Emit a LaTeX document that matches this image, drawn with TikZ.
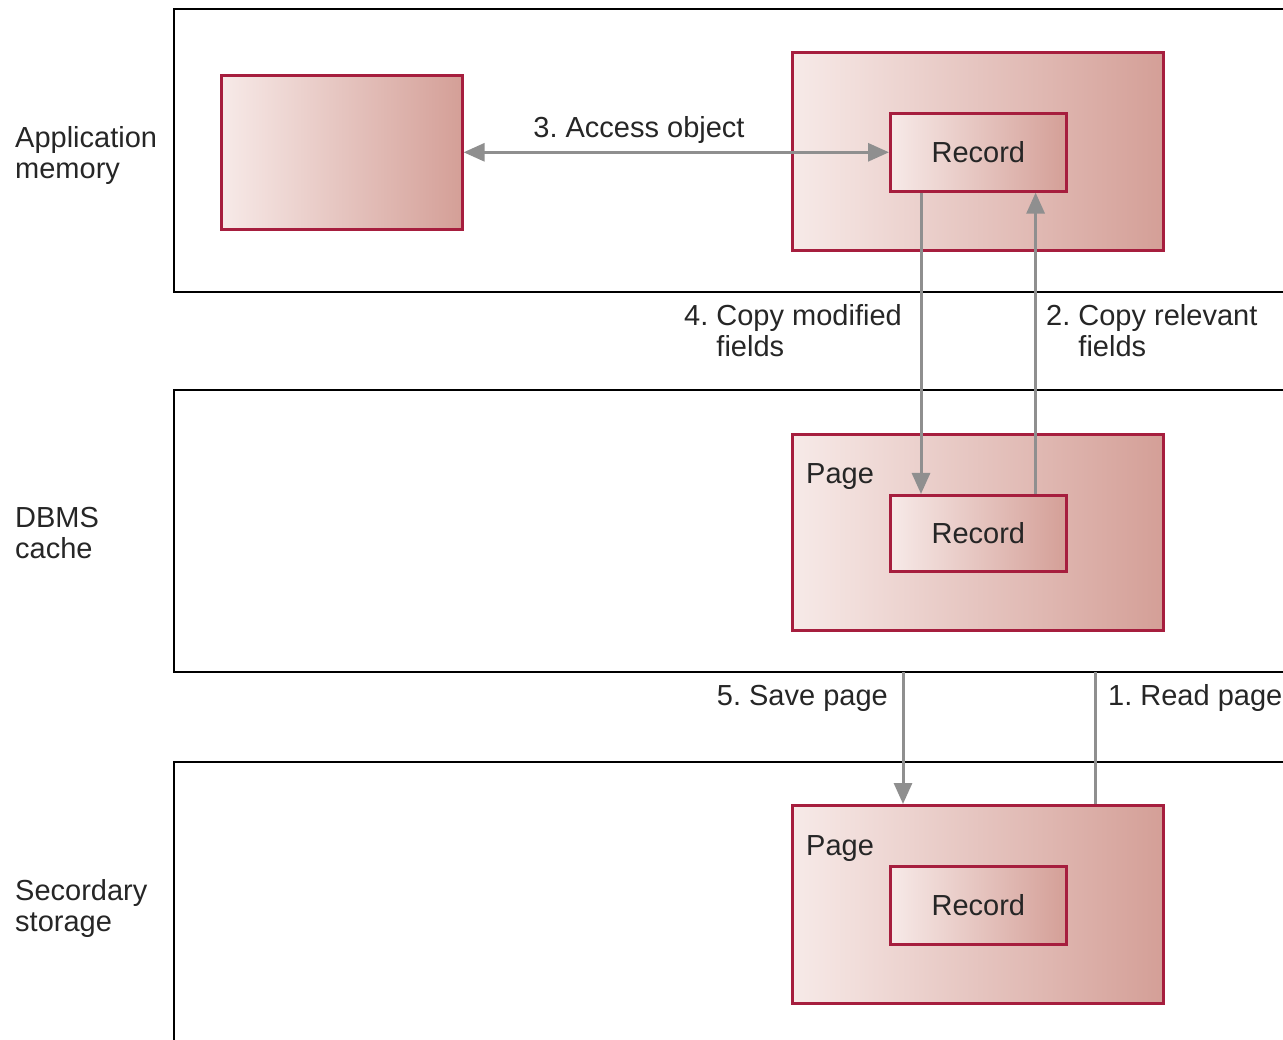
\documentclass[tikz,border=0pt]{standalone}
\usepackage{fontspec}
\setmainfont{Liberation Sans}
\usetikzlibrary{arrows.meta,calc}
\definecolor{boxedge}{HTML}{A61E3E}
\definecolor{fillL}{HTML}{F7EAE8}
\definecolor{fillR}{HTML}{D49F97}
\definecolor{flow}{HTML}{8F8F8F}
\definecolor{ink}{HTML}{262626}
\tikzset{
  x=1pt, y=-1pt,
  layer/.style={draw=black, line width=2.6pt},
  tinted/.style={draw=boxedge, line width=2.6pt, left color=fillL, right color=fillR,
    shading angle=90, anchor=north west, inner sep=0pt},
  recbox/.style={tinted, minimum width=176pt, minimum height=77pt},
  pagebox/.style={tinted, minimum width=371pt, minimum height=197pt},
  txt/.style={text=ink, font=\fontsize{29}{31}\selectfont, inner sep=0pt},
  flowline/.style={draw=flow, line width=3pt},
  flowarrow/.style={flowline, -{Triangle[length=21pt,width=18pt]}},
}
\begin{document}
\frenchspacing
\begin{tikzpicture}
\useasboundingbox (0,0) rectangle (1283,1040);

% layers (open on the right, bottom one also open below)
\draw[layer] (1300,9) -- (174,9) -- (174,292) -- (1300,292);
\draw[layer] (1300,390) -- (174,390) -- (174,672) -- (1300,672);
\draw[layer] (1300,762) -- (174,762) -- (174,1050);
\coordinate (cacheBot) at (174,672);

\node[txt, anchor=north west, align=left] (lblApp) at (15,126) {Application\\memory};
\node[txt, anchor=north west, align=left] (lblCache) at (15,507) {DBMS\\cache};
\node[txt, anchor=north west, align=left] (lblDisk) at (15,879) {Secordary\\storage};

% application memory
\node[tinted, minimum width=241pt, minimum height=154pt] (obj) at (220,74) {};
\node[pagebox, minimum height=198pt] (page1) at (791,51) {};
\node[recbox, minimum height=78pt] (rec1) at (889,112) {};
\node[txt] at (rec1.center) {Record};

% DBMS cache
\node[pagebox, minimum height=196pt] (page2) at (791,433) {};
\node[txt, anchor=base west] (p2lbl) at (806,484) {Page};
\node[recbox, minimum height=76pt] (rec2) at (889,494) {};
\node[txt] at (rec2.center) {Record};

% secondary storage
\node[pagebox, minimum height=198pt] (page3) at (791,804) {};
\node[txt, anchor=base west] (p3lbl) at (806,855) {Page};
\node[recbox, minimum height=78pt] (rec3) at (889,865) {};
\node[txt] at (rec3.center) {Record};

% data movement
\draw[flowarrow, {Triangle[length=21pt,width=18pt]}-{Triangle[length=21pt,width=18pt]}]
  (obj.east) -- (rec1.west);
\node[txt, anchor=base] (l3) at (639,138) {3. Access object};

\coordinate (d4) at ($(rec1.south west)+(32,0)$);
\coordinate (u2) at ($(rec1.south east)+(-32,0)$);
\draw[flowarrow] (d4) -- (d4 |- rec2.north);
\draw[flowarrow] (u2 |- rec2.north) -- (u2);
\node[txt, anchor=north west, align=left] (l4) at (684,304) {4. Copy modified\\\hphantom{4. }fields};
\node[txt, anchor=north west, align=left] (l2) at (1046,304) {2. Copy relevant\\\hphantom{2. }fields};

\coordinate (s5) at ($(page3.north west)+(112,0)$);
\coordinate (r1) at ($(page3.north east)+(-69,0)$);
\draw[flowarrow] (s5 |- cacheBot) -- (s5);
\draw[flowline] (r1) -- (r1 |- cacheBot);
\node[txt, anchor=base east] (l5) at (888,705) {5. Save page};
\node[txt, anchor=base west] (l1) at (1108,705) {1. Read page};
\end{tikzpicture}
\end{document}
